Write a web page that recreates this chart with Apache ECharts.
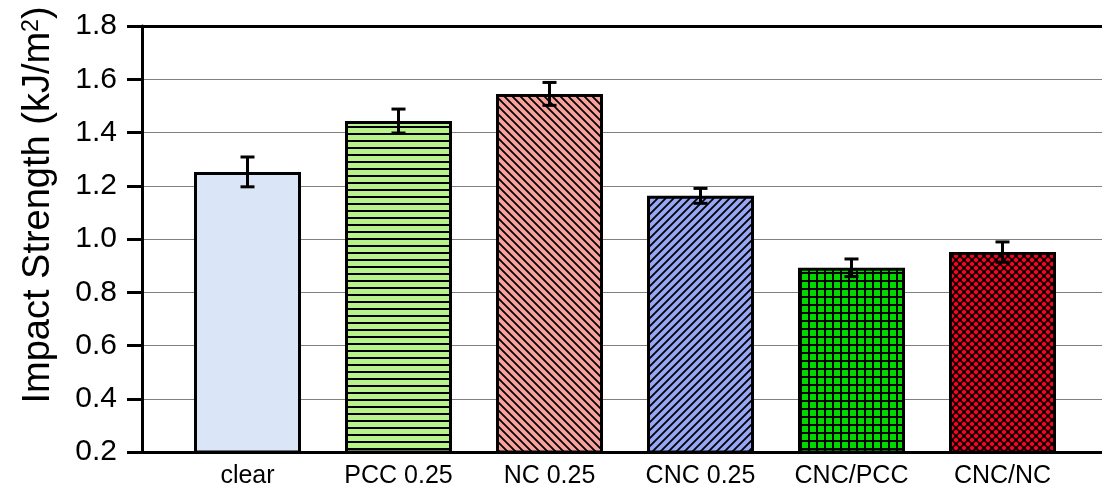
<!DOCTYPE html>
<html>
<head>
<meta charset="utf-8">
<script src="https://cdn.jsdelivr.net/npm/echarts@6/dist/echarts.min.js"></script>
<style>
  html, body { margin: 0; padding: 0; background: #fff; }
  #chart { width: 1102px; height: 490px; }
</style>
</head>
<body>
<div id="chart"></div>
<script>
// Sample groups shown along the x axis
const categories = ['clear', 'PCC 0.25', 'NC 0.25', 'CNC 0.25', 'CNC/PCC', 'CNC/NC'];
// Mean impact strength (kJ/m²) and standard deviation per group
const means = [1.252, 1.443, 1.545, 1.162, 0.892, 0.951];
const errors = [0.056, 0.045, 0.043, 0.028, 0.033, 0.038];
// Y axis range and step
const yMin = 0.2, yMax = 1.8, yStep = 0.2;

const FONT = "'Liberation Sans', Arial, sans-serif";

// Build a repeating fill tile drawn on a small canvas
function tile(w, h, bg, draw) {
  const c = document.createElement('canvas');
  c.width = w; c.height = h;
  const g = c.getContext('2d');
  g.fillStyle = bg;
  g.fillRect(0, 0, w, h);
  g.fillStyle = '#000';
  g.strokeStyle = '#000';
  draw(g, w, h);
  return { image: c, repeat: 'repeat' };
}
function backslash(g, s) {
  g.beginPath();
  g.moveTo(-1, -1); g.lineTo(s + 1, s + 1);
  g.moveTo(-1, s - 1); g.lineTo(1, s + 1);
  g.moveTo(s - 1, -1); g.lineTo(s + 1, 1);
  g.stroke();
}
function slash(g, s) {
  g.beginPath();
  g.moveTo(-1, s + 1); g.lineTo(s + 1, -1);
  g.moveTo(-1, 1); g.lineTo(1, -1);
  g.moveTo(s - 1, s + 1); g.lineTo(s + 1, s - 1);
  g.stroke();
}

const fills = [
  '#dae6f7',
  tile(8, 7, '#b8f28a', (g, w) => { g.fillRect(0, 0, w, 2); }),
  tile(8, 8, '#f9a29b', (g) => { g.lineWidth = 1.8; backslash(g, 8); }),
  tile(8, 8, '#97a7f5', (g) => { g.lineWidth = 1.8; slash(g, 8); }),
  tile(8, 8, '#00d800', (g, w, h) => { g.fillRect(0, 0, w, 2); g.fillRect(0, 0, 2, h); }),
  tile(8, 8, '#ff0024', (g) => { g.lineWidth = 1.8; backslash(g, 8); slash(g, 8); })
];

// Horizontal placement: bar centres at index positions, axis spans a little past them
const X_MIN = -0.6987, X_MAX = 5.659;

const chart = echarts.init(document.getElementById('chart'), null, { renderer: 'canvas' });

chart.setOption({
  animation: false,
  backgroundColor: '#fff',
  grid: { left: 142, right: 0, top: 26, bottom: 38 },
  xAxis: [
    {
      type: 'value', position: 'bottom', min: X_MIN, max: X_MAX,
      axisLine: { show: true, onZero: false, lineStyle: { color: '#000', width: 3 } },
      axisTick: { show: false },
      splitLine: { show: false },
      axisLabel: {
        customValues: categories.map((_, i) => i),
        formatter: (v) => categories[Math.round(v)] || '',
        fontSize: 25, color: '#000', fontFamily: FONT, margin: 12
      }
    },
    {
      type: 'value', position: 'top', min: X_MIN, max: X_MAX,
      axisLine: { show: true, onZero: false, lineStyle: { color: '#000', width: 3 } },
      axisTick: { show: false }, axisLabel: { show: false }, splitLine: { show: false }
    }
  ],
  yAxis: {
    type: 'value', min: yMin, max: yMax, interval: yStep,
    axisLine: { show: true, onZero: false, lineStyle: { color: '#000', width: 3 } },
    axisTick: { show: true, inside: false, length: 15, lineStyle: { color: '#000', width: 3 } },
    axisLabel: {
      formatter: (v) => v.toFixed(1),
      fontSize: 30, color: '#000', fontFamily: FONT, margin: 25,
      padding: [4, 0, 0, 0]
    },
    splitLine: { show: true, lineStyle: { color: '#808080', width: 1 } }
  },
  graphic: [{
    type: 'text', x: 39, y: 205, rotation: Math.PI / 2,
    style: {
      text: 'Impact Strength (kJ/m{sup|2})',
      fontSize: 38, fontFamily: FONT, fill: '#000',
      align: 'center', verticalAlign: 'middle',
      rich: { sup: { fontSize: 23, fontFamily: FONT, fill: '#000', verticalAlign: 'top', padding: [0, 0, 8, 0] } }
    }
  }],
  series: [
    {
      type: 'bar', xAxisIndex: 0, barWidth: 107,
      data: means.map((m, i) => ({
        value: [i, m],
        itemStyle: { color: fills[i], borderColor: '#000', borderWidth: 3 }
      })),
      z: 2
    },
    {
      type: 'custom', xAxisIndex: 0, z: 10,
      data: means.map((m, i) => [i, m, errors[i]]),
      encode: { x: 0, y: 1 },
      renderItem: (params, api) => {
        const x = api.value(0), m = api.value(1), e = api.value(2);
        const hi = api.coord([x, m + e]);
        const lo = api.coord([x, m - e]);
        const hw = 7;
        const st = { stroke: '#000', lineWidth: 3 };
        return {
          type: 'group',
          children: [
            { type: 'line', shape: { x1: hi[0], y1: hi[1], x2: lo[0], y2: lo[1] }, style: st },
            { type: 'line', shape: { x1: hi[0] - hw, y1: hi[1], x2: hi[0] + hw, y2: hi[1] }, style: st },
            { type: 'line', shape: { x1: lo[0] - hw, y1: lo[1], x2: lo[0] + hw, y2: lo[1] }, style: st }
          ]
        };
      }
    }
  ]
});
</script>
</body>
</html>
